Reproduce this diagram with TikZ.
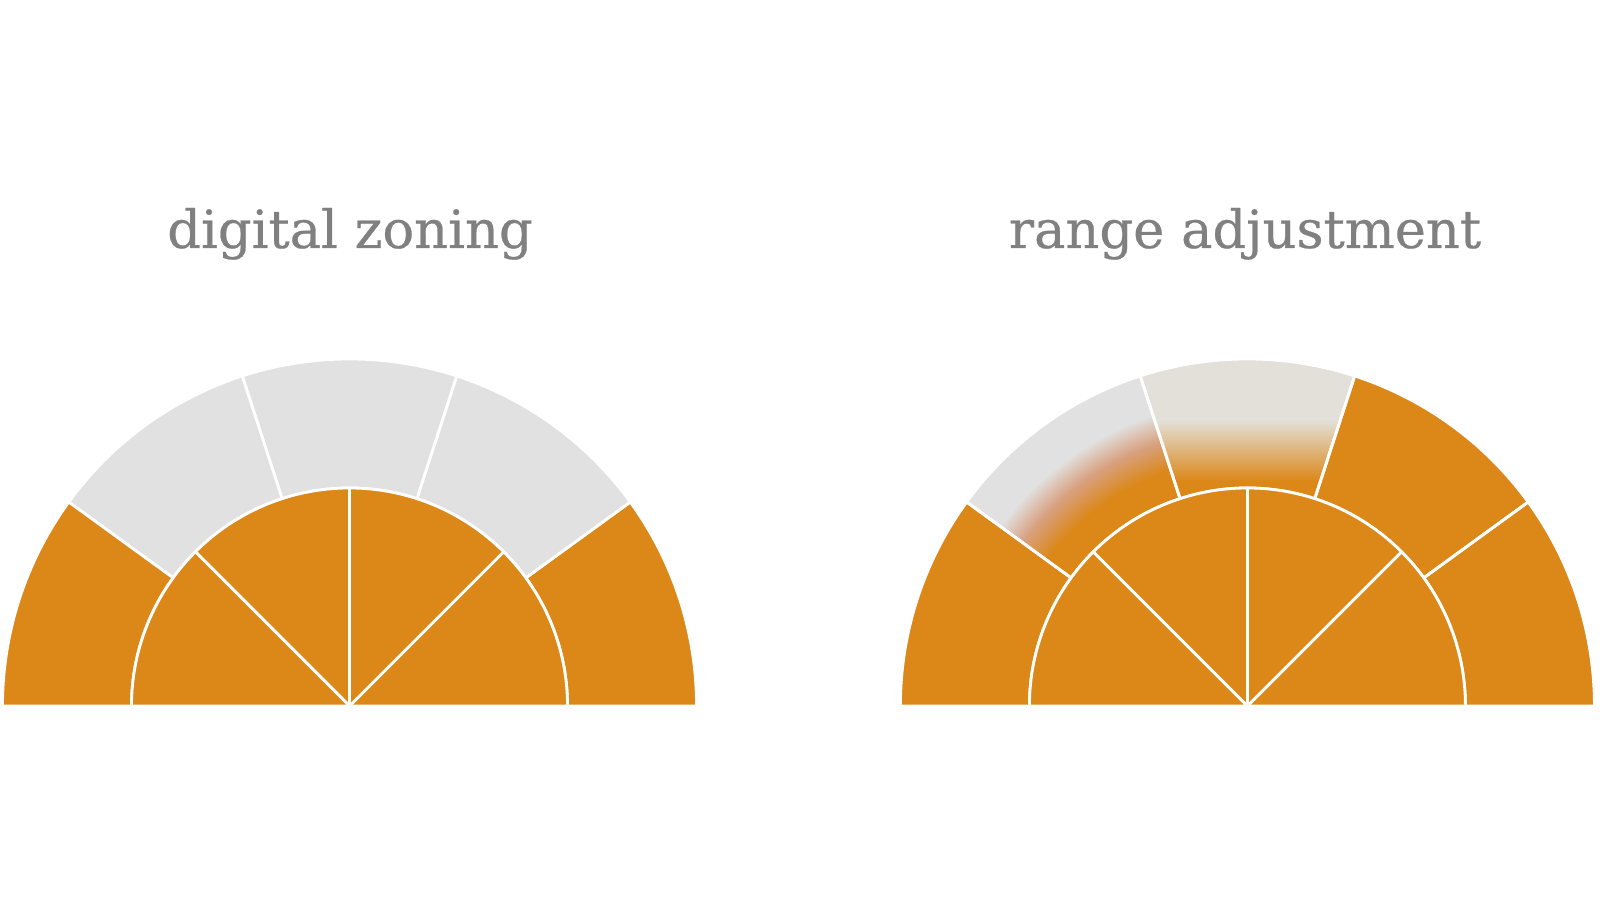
\documentclass[tikz,border=0pt]{standalone}
\usepackage{fontspec}
\setmainfont[FakeBold=0.5]{DejaVu Serif}
\definecolor{zoneorange}{HTML}{DB8819}
\definecolor{zonegray}{HTML}{E1E1E1}
\definecolor{fadegray}{HTML}{E3E0DA}
\definecolor{fadepink}{HTML}{D8A07E}
\definecolor{titlegray}{HTML}{808080}
\pgfdeclareradialshading{ringfade}{\pgfpointorigin}{color(0cm)=(zoneorange); color(2.48cm)=(zoneorange); color(2.78cm)=(fadepink); color(3.06cm)=(zonegray); color(3.6cm)=(zonegray)}

\begin{document}
\begin{tikzpicture}[
  zone/.style={draw=white, line width=0.8pt, line join=round},
  zonetitle/.style={text=titlegray, font=\fontsize{15}{18}\selectfont, anchor=base}]
  \useasboundingbox (0,0) rectangle (16,8.99);
  \def\rin{2.18}
  \def\rout{3.47}
  \coordinate (lc) at (3.495,1.93);
  \coordinate (rc) at (12.474,1.93);

  \node[zonetitle] (zoning) at (3.5,6.51) {digital zoning};
  \node[zonetitle] (range) at (12.45,6.51) {range adjustment};

  % digital zoning
  \foreach \a/\b/\col in {0/36/zoneorange, 36/72/zonegray, 72/108/zonegray, 108/144/zonegray, 144/180/zoneorange}
    \path[zone, fill=\col] ([shift={(\a:\rin)}]lc) arc[start angle=\a, end angle=\b, radius=\rin]
      -- ([shift={(\b:\rout)}]lc) arc[start angle=\b, end angle=\a, radius=\rout] -- cycle;
  \foreach \a in {0,45,90,135}
    \path[zone, fill=zoneorange] (lc) -- ([shift={(\a:\rin)}]lc) arc[start angle=\a, delta angle=45, radius=\rin] -- cycle;

  % range adjustment
  \foreach \a/\b in {0/36, 36/72, 144/180}
    \fill[zoneorange] ([shift={(\a:\rin)}]rc) arc[start angle=\a, end angle=\b, radius=\rin]
      -- ([shift={(\b:\rout)}]rc) arc[start angle=\b, end angle=\a, radius=\rout] -- cycle;
  \begin{scope}
    \clip ([shift={(72:\rin)}]rc) arc[start angle=72, end angle=108, radius=\rin]
      -- ([shift={(108:\rout)}]rc) arc[start angle=108, end angle=72, radius=\rout] -- cycle;
    \fill[zoneorange] ([shift={(-2,1.8)}]rc) rectangle ([shift={(2,2.4)}]rc);
    \fill[fadegray] ([shift={(-2,2.6)}]rc) rectangle ([shift={(2,3.6)}]rc);
    \shade[bottom color=zoneorange, middle color=fadepink, top color=fadegray] ([shift={(-2,2.25)}]rc) rectangle ([shift={(2,2.86)}]rc);
  \end{scope}
  \begin{scope}
    \clip ([shift={(108:\rin)}]rc) arc[start angle=108, end angle=144, radius=\rin]
      -- ([shift={(144:\rout)}]rc) arc[start angle=144, end angle=108, radius=\rout] -- cycle;
    \node[inner sep=0pt] (fade) at (rc) {\pgfuseshading{ringfade}};
  \end{scope}
  \foreach \a in {0,36,72,108,144}
    \draw[zone] ([shift={(\a:\rin)}]rc) arc[start angle=\a, delta angle=36, radius=\rin]
      -- ([shift={(\a+36:\rout)}]rc) arc[start angle=\a+36, delta angle=-36, radius=\rout] -- cycle;
  \foreach \a in {0,45,90,135}
    \path[zone, fill=zoneorange] (rc) -- ([shift={(\a:\rin)}]rc) arc[start angle=\a, delta angle=45, radius=\rin] -- cycle;
\end{tikzpicture}
\end{document}
